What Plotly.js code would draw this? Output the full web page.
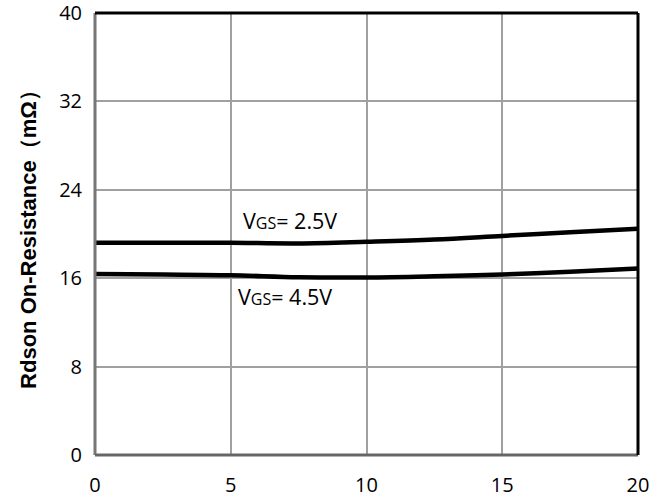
<!DOCTYPE html>
<html>
<head>
<meta charset="utf-8">
<script src="https://cdn.plot.ly/plotly-3.0.1.min.js"></script>
<style>body{margin:0;padding:0;background:#fff;}#chart{width:670px;height:503px;}</style>
</head>
<body>
<div id="chart"></div>
<script>
const xVals = [0, 2.5, 5, 7.5, 10, 12.5, 15, 17.5, 20];
const rdsVgs25 = [19.21, 19.21, 19.2, 19.15, 19.3, 19.5, 19.83, 20.16, 20.48];
const rdsVgs45 = [16.37, 16.33, 16.27, 16.09, 16.07, 16.18, 16.34, 16.59, 16.88];
const xTicks = [0, 5, 10, 15, 20];
const yTicks = [0, 8, 16, 24, 32, 40];
const labels = ['V<span style="font-size:16px">GS</span>= 2.5V', 'V<span style="font-size:16px">GS</span>= 4.5V'];

const traces = [
  {x: xVals, y: rdsVgs25, mode: 'lines', line: {color: '#000', width: 4.5, shape: 'spline'}, showlegend: false, hoverinfo: 'skip'},
  {x: xVals, y: rdsVgs45, mode: 'lines', line: {color: '#000', width: 4.5, shape: 'spline'}, showlegend: false, hoverinfo: 'skip'}
];

const layout = {
  width: 670, height: 503,
  margin: {l: 95, r: 32, t: 13, b: 48},
  paper_bgcolor: '#fff', plot_bgcolor: '#fff',
  font: {family: 'Open Sans, Noto Sans, sans-serif', color: '#000', size: 20},
  xaxis: {range: [0, 20], tickvals: xTicks, ticktext: xTicks.map(String), showgrid: true, gridcolor: '#a0a0a0', gridwidth: 2,
          zeroline: false, showline: false, ticks: '', ticklabelstandoff: 16, ticklabeloverflow: 'allow', tickfont: {size: 20}},
  yaxis: {range: [0, 40], tickvals: yTicks, ticktext: yTicks.map(String), showgrid: true, gridcolor: '#a0a0a0', gridwidth: 2,
          zeroline: false, showline: false, ticks: '', ticklabelstandoff: 12, ticklabeloverflow: 'allow', tickfont: {size: 20},
          title: {text: 'Rdson On-Resistance（mΩ）', font: {family: 'Liberation Sans, Arial, sans-serif', size: 22, weight: 'bold'}, standoff: 16}},
  annotations: [
    {x: 7.2, y: 21.25, xref: 'x', yref: 'y', text: labels[0], showarrow: false, font: {size: 21.5, family: 'Open Sans, Noto Sans, sans-serif'}},
    {x: 7.0, y: 14.3, xref: 'x', yref: 'y', text: labels[1], showarrow: false, font: {size: 21.5, family: 'Open Sans, Noto Sans, sans-serif'}}
  ],
  shapes: [
    {type: 'line', xref: 'paper', yref: 'paper', x0: 0, x1: 0, y0: 0, y1: 1, line: {color: '#777', width: 3}},
    {type: 'line', xref: 'paper', yref: 'paper', x0: 0, x1: 1, y0: 0, y1: 0, line: {color: '#666', width: 3}},
    {type: 'line', xref: 'paper', yref: 'paper', x0: 0, x1: 1, y0: 1, y1: 1, line: {color: '#000', width: 3}},
    {type: 'line', xref: 'paper', yref: 'paper', x0: 1, x1: 1, y0: 0, y1: 1, line: {color: '#000', width: 3}}
  ]
};

Plotly.newPlot('chart', traces, layout, {displayModeBar: false, staticPlot: true});
</script>
</body>
</html>
